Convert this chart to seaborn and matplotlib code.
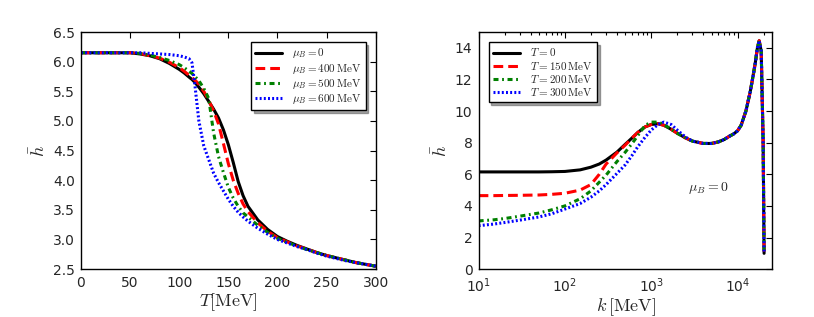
import numpy as np
import pandas as pd
import matplotlib
matplotlib.use("Agg")
import matplotlib.pyplot as plt
import seaborn as sns

# ---- left panel: h-bar vs T for several mu_B ----
T_vals = [0, 10, 20, 30, 40, 50, 60, 70, 80, 90, 100, 105, 110, 113, 116, 120, 125,
          130, 135, 140, 145, 150, 155, 160, 165, 170, 180, 190, 200, 210, 220, 230,
          240, 250, 260, 270, 280, 290, 300]
h_mu0 = [6.15, 6.15, 6.15, 6.15, 6.15, 6.15, 6.13, 6.10, 6.05, 5.97, 5.87, 5.81, 5.74,
         5.70, 5.65, 5.57, 5.46, 5.33, 5.20, 5.05, 4.85, 4.60, 4.30, 3.98, 3.74, 3.56,
         3.33, 3.17, 3.05, 2.97, 2.90, 2.84, 2.78, 2.73, 2.69, 2.65, 2.61, 2.58, 2.55]
h_mu400 = [6.15, 6.15, 6.15, 6.15, 6.15, 6.15, 6.14, 6.10, 6.06, 5.99, 5.90, 5.84, 5.77,
           5.73, 5.69, 5.62, 5.50, 5.35, 5.17, 4.95, 4.62, 4.28, 4.00, 3.78, 3.60, 3.47,
           3.28, 3.14, 3.03, 2.96, 2.89, 2.84, 2.78, 2.73, 2.69, 2.65, 2.61, 2.58, 2.55]
h_mu500 = [6.15, 6.15, 6.15, 6.15, 6.15, 6.15, 6.14, 6.11, 6.07, 6.02, 5.95, 5.90, 5.84,
           5.80, 5.75, 5.68, 5.55, 5.38, 4.80, 4.40, 4.13, 3.88, 3.70, 3.56, 3.45, 3.38,
           3.24, 3.12, 3.02, 2.95, 2.89, 2.83, 2.78, 2.73, 2.69, 2.65, 2.61, 2.58, 2.55]
h_mu600 = [6.15, 6.15, 6.15, 6.15, 6.15, 6.15, 6.15, 6.14, 6.13, 6.12, 6.10, 6.08, 6.05,
           5.98, 5.60, 5.00, 4.58, 4.35, 4.12, 3.96, 3.82, 3.68, 3.56, 3.46, 3.38, 3.31,
           3.19, 3.09, 3.00, 2.94, 2.88, 2.83, 2.77, 2.72, 2.68, 2.64, 2.61, 2.58, 2.55]
mu_labels = [r"$\mu_B=0$", r"$\mu_B=400\,\mathrm{MeV}$",
             r"$\mu_B=500\,\mathrm{MeV}$", r"$\mu_B=600\,\mathrm{MeV}$"]

# ---- right panel: h-bar vs k for several T ----
k_vals = [10, 15, 20, 30, 50, 70, 100, 150, 200, 250, 300, 400, 500, 600, 700, 850,
          1000, 1200, 1400, 1700, 2000, 2500, 3000, 4000, 5000, 6000, 7000, 8000, 9000,
          10000, 11000, 12500, 14000, 15000, 16000, 17000, 17800, 18800, 19800, 20300]
tail = [8.85, 8.6, 8.3, 8.1, 7.95, 7.95, 8.05, 8.2, 8.4, 8.55, 8.75, 9.1, 10.0, 11.2,
        12.1, 13.0, 14.0, 14.45, 13.8, 8.0, 1.0]
h_T0 = [6.15, 6.15, 6.15, 6.15, 6.15, 6.16, 6.18, 6.28, 6.45, 6.65, 6.9, 7.4, 7.9, 8.3,
        8.65, 9.0, 9.15, 9.2, 9.1] + tail
h_T150 = [4.65, 4.65, 4.66, 4.67, 4.69, 4.73, 4.8, 5.0, 5.35, 6.0, 6.65, 7.35, 7.85,
          8.3, 8.65, 9.0, 9.15, 9.2, 9.1] + tail
h_T200 = [3.05, 3.12, 3.2, 3.35, 3.55, 3.75, 4.0, 4.45, 4.95, 5.5, 5.95, 6.8, 7.4, 7.95,
          8.45, 9.1, 9.3, 9.3, 9.15] + tail
h_T300 = [2.75, 2.85, 2.95, 3.1, 3.3, 3.5, 3.8, 4.15, 4.55, 4.95, 5.35, 6.05, 6.6, 7.2,
          7.75, 8.35, 8.8, 9.15, 9.3, 9.15, 8.8, 8.35, 8.1, 7.95, 7.95, 8.05, 8.2, 8.4,
          8.55, 8.75, 9.1, 10.0, 11.2, 12.1, 13.0, 14.0, 14.45, 13.8, 8.0, 1.0]
T_labels = [r"$T=0$", r"$T=150\,\mathrm{MeV}$",
            r"$T=200\,\mathrm{MeV}$", r"$T=300\,\mathrm{MeV}$"]

colors = ["black", "red", "green", "blue"]
# dash patterns in points (solid, dashed, dash-dot, dotted)
dashes = [(None, None), (7, 3.6), (3.6, 2.6, 1.3, 2.6), (1.4, 1.6)]

sns.set_style("white")
plt.rcParams["font.family"] = ["DejaVu Sans"]
plt.rcParams["mathtext.fontset"] = "cm"
plt.rcParams["xtick.direction"] = "in"
plt.rcParams["ytick.direction"] = "in"
plt.rcParams["lines.scale_dashes"] = False

fig = plt.figure(figsize=(8.14, 3.17), dpi=100)
ax1 = fig.add_axes([0.0995, 0.151, 0.362, 0.748])
ax2 = fig.add_axes([0.588, 0.151, 0.361, 0.748])


def draw(ax, xs, series, labels):
    for ys, lab, c, d in zip(series, labels, colors, dashes):
        df = pd.DataFrame({"x": xs, "h": ys})
        sns.lineplot(data=df, x="x", y="h", ax=ax, color=c, linewidth=2.2,
                     label=lab, sort=False)
        if d[0] is not None:
            ax.lines[-1].set_dashes(d)


draw(ax1, T_vals, [h_mu0, h_mu400, h_mu500, h_mu600], mu_labels)
draw(ax2, k_vals, [h_T0, h_T150, h_T200, h_T300], T_labels)

ax1.set_xlim(0, 300)
ax1.set_ylim(2.5, 6.5)
ax1.set_xticks(np.arange(0, 301, 50))
ax1.set_yticks(np.arange(2.5, 6.51, 0.5))
ax1.set_xlabel(r"$T[\mathrm{MeV}]$", fontsize=13, labelpad=1)
ax1.set_ylabel(r"$\bar{h}$", fontsize=13, labelpad=3)

ax2.set_xscale("log")
ax2.set_xlim(10, 2.54e4)
ax2.set_ylim(0, 15)
ax2.set_yticks(np.arange(0, 15, 2))
ax2.set_xlabel(r"$k\,[\mathrm{MeV}]$", fontsize=13, labelpad=1)
ax2.set_ylabel(r"$\bar{h}$", fontsize=13, labelpad=3)
ax2.text(2700, 5.15, r"$\mu_B=0$", fontsize=10, ha="left", va="center")

for ax in (ax1, ax2):
    for sp in ax.spines.values():
        sp.set_color("black")
        sp.set_linewidth(1.0)
    ax.tick_params(axis="both", which="both", top=True, right=True, labelsize=10,
                   color="black", width=0.8)
    ax.tick_params(axis="y", pad=4.5)
    ax.tick_params(axis="x", pad=5)
    ax.tick_params(which="major", length=4)
    ax.tick_params(which="minor", length=2)

legend_kw = dict(fontsize=8, frameon=True, shadow=True, fancybox=False,
                 framealpha=1, edgecolor="black", handlelength=2.4,
                 handletextpad=0.9, borderpad=0.4, labelspacing=0.1,
                 borderaxespad=0.9)
leg1 = ax1.legend(loc="upper right", **legend_kw)
leg2 = ax2.legend(loc="upper left", **legend_kw)
for leg in (leg1, leg2):
    leg.get_frame().set_linewidth(1.0)

fig.savefig("out.png", dpi=100)
